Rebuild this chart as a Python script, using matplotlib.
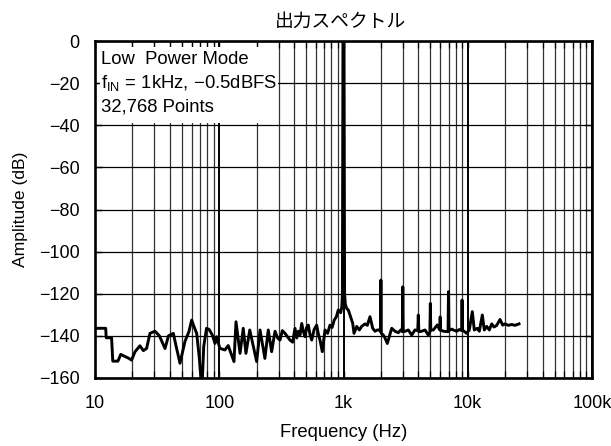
import matplotlib
matplotlib.use("Agg")
import matplotlib.pyplot as plt
from matplotlib.patches import Rectangle
from matplotlib.ticker import FixedLocator, LogLocator, NullFormatter

plt.rcParams["font.family"] = ["Liberation Sans", "DejaVu Sans"]
plt.rcParams["mathtext.fontset"] = "custom"
plt.rcParams["mathtext.rm"] = "Liberation Sans"
plt.rcParams["mathtext.it"] = "Liberation Sans"

# FFT output spectrum (Hz, dB), split by band
low_freq = [10, 12.2, 12.3, 13.6, 13.9, 15.3, 16.1, 17, 18.5, 19.7,
            21, 23, 24.5, 26, 27.7, 30.4, 33, 36.6, 39, 42.7,
            45, 48.3, 53, 57, 60, 63, 65.8, 69, 72.5, 75,
            79, 83, 88]
low_db = [-136.4, -136.4, -140.9, -140.9, -152, -152, -148.8, -149.5, -150.5, -151.5,
          -147.5, -144.7, -147, -146, -138.8, -137.8, -140, -146, -140, -138.8,
          -145, -153, -142.6, -138, -132.5, -136, -138.8, -150, -166, -145,
          -136.4, -137, -139.6]

mid_freq = [92.4, 95.5, 101, 111, 118, 131.4, 136.4, 147, 156, 164,
            176, 200, 213, 233, 248, 264, 281, 295, 308, 322,
            338, 355, 371, 390, 407, 420, 433, 447, 461, 476,
            490, 505, 521, 538, 555, 580, 608, 627, 647, 675,
            710, 745, 778, 810, 842, 875, 908]
mid_db = [-143.6, -140.4, -145.9, -146.7, -144.6, -152.2, -133.3, -148.3, -136.4, -148.3,
          -137.2, -152.2, -137.2, -150.7, -137.2, -147.5, -137.8, -141, -142, -137.5,
          -138.8, -140.5, -142, -143, -136.4, -141, -137.8, -139.5, -134.1, -138,
          -140.4, -136, -134.9, -139.5, -142, -137, -134.9, -139, -142, -147.5,
          -137.2, -138.8, -134.9, -136, -132.5, -131, -127.7]

tone_freq = [950, 970, 980, 986, 990, 1010, 1014, 1020, 1035, 1060, 1093]
tone_db = [-129, -126, -120, -60, 0, 0, -60, -120, -125, -127, -127.7]

high_freq = [1186, 1215, 1277, 1341, 1401, 1489, 1554, 1634, 1718, 1793,
             1871, 1967, 1985, 2000, 2015, 2091, 2158, 2252, 2337, 2443,
             2597, 2761, 2887, 2975, 3000, 3025, 3144, 3323, 3539, 3763,
             3960, 4000, 4040, 4260, 4529, 4814, 4960, 5000, 5040, 5281,
             5689, 5950, 6000, 6050, 6358, 6940, 7000, 7060, 7428, 7649,
             8147, 8551, 8930, 9000, 9070, 9333, 9806, 10290, 10880, 11290,
             11940, 12390, 13100, 13590, 14210, 14910, 15590, 16270, 17100, 18180,
             19110, 19940, 21210, 22580, 24010, 25860]
high_db = [-134, -138.8, -135.5, -137.2, -135.5, -134.3, -135, -130.9, -136.4, -137.8,
           -137.2, -137.2, -138, -113.5, -138.8, -139.6, -141, -143.6, -140.4, -136.4,
           -137.8, -138.5, -137.2, -138, -116.7, -138, -137.8, -137.2, -139.6, -137.2,
           -137.5, -130.1, -138, -137.8, -137.2, -139.6, -138, -124.6, -137.2, -137.2,
           -134.8, -137.2, -131, -137.2, -137.8, -138, -119, -137.5, -136.8, -137.2,
           -137.8, -137, -137.5, -123, -137.2, -137.8, -138.8, -137.2, -128.5, -137.2,
           -136.4, -137.8, -130.1, -137.2, -135.5, -137.2, -134.3, -135.8, -135, -132.2,
           -134.9, -134.3, -135, -134.6, -135, -134.3]

decades = [10, 100, 1000, 10000, 100000]
decade_labels = ["10", "100", "1k", "10k", "100k"]
db_ticks = [0, -20, -40, -60, -80, -100, -120, -140, -160]
db_labels = ["0"] + ["\u2212%d" % -t for t in db_ticks[1:]]

info_lines = [
    "Low  Power Mode",
    r"f$_{\mathregular{IN}}$ = 1kHz, " + "\u22120.5dBFS",
    "32,768 Points",
]

freq = low_freq + mid_freq + tone_freq + high_freq
amp_db = low_db + mid_db + tone_db + high_db

fig = plt.figure(figsize=(6.11, 4.46), dpi=100)
fig.subplots_adjust(left=95 / 611, right=592 / 611, top=1 - 41 / 446,
                    bottom=1 - 378 / 446)
ax = fig.add_subplot(111)
ax.set_axisbelow(True)

ax.plot(freq, amp_db, color="black", lw=2.1, zorder=3)

ax.set_xscale("log")
ax.set_xlim(10, 100000)
ax.set_ylim(-160, 0)
ax.xaxis.set_major_locator(FixedLocator(decades))
ax.set_xticklabels(decade_labels)
ax.xaxis.set_minor_locator(LogLocator(base=10, subs=range(2, 10), numticks=20))
ax.xaxis.set_minor_formatter(NullFormatter())
ax.set_yticks(db_ticks)
ax.set_yticklabels(db_labels)

ax.grid(True, which="major", axis="x", color="black", lw=1.4)
ax.grid(True, which="minor", axis="x", color="#333333", lw=0.9)
ax.grid(True, which="major", axis="y", color="black", lw=0.9)

ax.tick_params(which="both", direction="in", top=True, right=True,
               labelsize=13)
ax.tick_params(axis="x", pad=12)
ax.tick_params(axis="y", pad=11)
ax.tick_params(which="major", length=5, width=1)
ax.tick_params(which="minor", length=5, width=0.9)
for sp in ax.spines.values():
    sp.set_linewidth(1.9)

# white panel behind the annotation, kept clear of the inward ticks
ax.add_patch(Rectangle((0.011, 0.757), 0.358, 0.226, transform=ax.transAxes,
                       facecolor="white", edgecolor="none", zorder=1))
for i, line in enumerate(info_lines):
    ax.text(0.012, 0.946 - i * 0.0705, line, transform=ax.transAxes,
            fontsize=13.3, va="center", ha="left", zorder=4)

ax.set_xlabel("Frequency (Hz)", fontsize=13.3, labelpad=9)
ax.set_ylabel("Amplitude (dB)", fontsize=12.6, labelpad=8)
ax.set_title("出力スペクトル", family=["Noto Sans CJK JP", "DejaVu Sans"],
             fontsize=13.5, pad=10, x=0.493)

fig.savefig("out.png", dpi=100)
